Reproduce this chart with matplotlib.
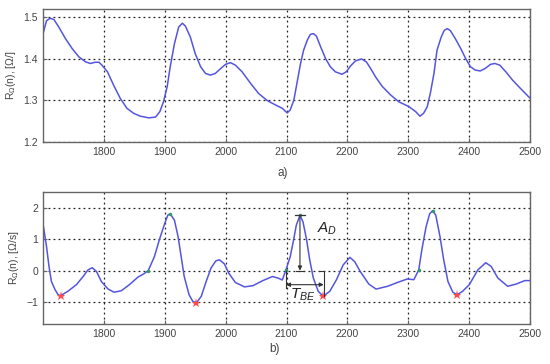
import matplotlib
matplotlib.use("Agg")
import matplotlib.pyplot as plt

# ── values ────────────────────────────────────────────────────────────────
# a) resistance R(n)
n_a = [1701, 1706, 1712, 1718, 1726, 1737, 1748, 1759, 1770, 1778, 1786, 1792,
       1797, 1806, 1816, 1827, 1838, 1849, 1860, 1874, 1885, 1892, 1898, 1904,
       1909, 1916, 1923, 1929, 1934, 1942, 1950, 1959, 1967, 1975, 1983, 1992,
       2000, 2008, 2016, 2027, 2041, 2054, 2068, 2082, 2093, 2101, 2106, 2112,
       2117, 2123, 2128, 2134, 2139, 2144, 2149, 2156, 2164, 2172, 2180, 2191,
       2198, 2205, 2213, 2223, 2231, 2238, 2246, 2257, 2271, 2284, 2301, 2312,
       2319, 2325, 2331, 2336, 2342, 2347, 2354, 2359, 2364, 2369, 2377, 2386,
       2394, 2402, 2410, 2418, 2426, 2435, 2442, 2450, 2460, 2471, 2484, 2500]
r_a = [1.465, 1.492, 1.498, 1.495, 1.477, 1.449, 1.425, 1.405, 1.393, 1.389,
       1.392, 1.392, 1.385, 1.369, 1.337, 1.305, 1.281, 1.269, 1.262, 1.258,
       1.260, 1.273, 1.297, 1.333, 1.381, 1.437, 1.477, 1.486, 1.479, 1.453,
       1.413, 1.381, 1.365, 1.361, 1.365, 1.377, 1.387, 1.391, 1.385, 1.369,
       1.341, 1.317, 1.300, 1.289, 1.281, 1.270, 1.277, 1.301, 1.341, 1.389,
       1.421, 1.445, 1.459, 1.461, 1.455, 1.429, 1.401, 1.381, 1.369, 1.363,
       1.369, 1.383, 1.395, 1.400, 1.393, 1.377, 1.357, 1.334, 1.313, 1.297,
       1.285, 1.273, 1.262, 1.269, 1.285, 1.317, 1.365, 1.421, 1.453, 1.469,
       1.473, 1.468, 1.449, 1.425, 1.401, 1.381, 1.373, 1.371, 1.377, 1.387,
       1.389, 1.385, 1.369, 1.349, 1.329, 1.305]

# b) derivative dR/dn
n_b = [1701, 1706, 1710, 1714, 1720, 1725, 1729, 1741, 1755, 1766, 1774, 1781,
       1788, 1796, 1807, 1817, 1829, 1842, 1856, 1866, 1873, 1883, 1891, 1900,
       1905, 1909, 1916, 1922, 1927, 1932, 1940, 1946, 1952, 1960, 1968, 1976,
       1984, 1990, 1998, 2005, 2016, 2031, 2045, 2061, 2077, 2086, 2093, 2099,
       2106, 2111, 2116, 2122, 2127, 2133, 2138, 2144, 2152, 2160, 2171, 2182,
       2193, 2204, 2212, 2221, 2235, 2247, 2266, 2282, 2298, 2309, 2317, 2322,
       2329, 2335, 2340, 2345, 2352, 2358, 2365, 2373, 2380, 2389, 2400, 2414,
       2427, 2436, 2447, 2463, 2477, 2491, 2500]
r_b = [1.39, 0.76, 0.13, -0.35, -0.61, -0.77, -0.80, -0.66, -0.45, -0.19,
       0.02, 0.09, -0.03, -0.35, -0.59, -0.69, -0.64, -0.45, -0.21, -0.10,
       0.00, 0.44, 0.97, 1.50, 1.76, 1.81, 1.60, 1.07, 0.44, -0.19,
       -0.77, -0.98, -1.03, -0.82, -0.35, 0.08, 0.31, 0.34, 0.21, -0.08,
       -0.38, -0.52, -0.48, -0.32, -0.19, -0.24, -0.30, 0.02, 0.44, 0.92,
       1.44, 1.76, 1.55, 0.97, 0.34, -0.24, -0.66, -0.82, -0.66, -0.29,
       0.18, 0.42, 0.28, -0.03, -0.43, -0.59, -0.50, -0.38, -0.27, -0.29,
       0.02, 0.65, 1.39, 1.81, 1.91, 1.76, 1.07, 0.34, -0.35, -0.69,
       -0.77, -0.66, -0.45, 0.02, 0.25, 0.13, -0.24, -0.50, -0.43, -0.32,
       -0.32]

# marked points
min_n = [1729, 1952, 2160, 2380]
min_v = [-0.80, -1.03, -0.82, -0.77]
mark_n = [1873, 1909, 2099, 2122, 2317, 2340]
mark_v = [0.00, 1.81, 0.02, 1.76, 0.02, 1.91]

# annotation anchors (A_D and T_BE on the third beat)
ad_n, ad_top, ad_bot = 2122, 1.76, 0.0
tbe_start, tbe_end, tbe_y = 2099, 2161, -0.45

x_ticks = [1800, 1900, 2000, 2100, 2200, 2300, 2400, 2500]

LINE = "#5555e0"
GRAY = "#444444"
INK = "#333333"
plt.rcParams["font.family"] = ["Liberation Sans", "DejaVu Sans"]
plt.rcParams["mathtext.fontset"] = "custom"
plt.rcParams["mathtext.rm"] = "Liberation Sans"
plt.rcParams["mathtext.it"] = "Liberation Sans:italic"

fig = plt.figure(figsize=(5.5, 3.64), dpi=100)
fig.patch.set_facecolor("white")
ax1 = fig.add_axes([0.078, 0.610, 0.886, 0.365])
ax2 = fig.add_axes([0.078, 0.110, 0.886, 0.3625])

for ax in (ax1, ax2):
    for sp in ax.spines.values():
        sp.set_edgecolor("#666666")
        sp.set_linewidth(1.0)
    ax.tick_params(direction="in", length=3, colors="#666666",
                   labelcolor=GRAY, labelsize=7.5)
    ax.grid(True, linestyle=(0, (1.5, 2.5)), color="#222222", linewidth=0.9)
    ax.set_xlim(1700, 2500)
    ax.set_xticks(x_ticks)

# ── a) ────────────────────────────────────────────────────────────────────
ax1.plot(n_a, r_a, color=LINE, linewidth=1.1)
ax1.set_ylim(1.2, 1.52)
ax1.set_yticks([1.2, 1.3, 1.4, 1.5])
ax1.set_ylabel("R$_\\Omega$(n), [Ω/]", fontsize=7.5, color=GRAY, labelpad=4)
fig.text(0.515, 0.525, "a)", fontsize=8.5, color=GRAY, ha="center", va="center")

# ── b) ────────────────────────────────────────────────────────────────────
ax2.plot(n_b, r_b, color=LINE, linewidth=1.1)
ax2.plot(min_n, min_v, "*", color="#ff4d4d", markersize=6.5, markeredgewidth=0)
ax2.plot(mark_n, mark_v, ".", color="#339966", markersize=3)
ax2.set_ylim(-1.7, 2.5)
ax2.set_yticks([-1, 0, 1, 2])
ax2.set_ylabel("R$_\\Omega$(n), [Ω/s]", fontsize=7.5, color=GRAY, labelpad=4)
fig.text(0.50, 0.04, "b)", fontsize=8.5, color=GRAY, ha="center", va="center")

# A_D arrow
ax2.annotate("", xy=(ad_n, ad_bot), xytext=(ad_n, ad_top),
             arrowprops=dict(arrowstyle="-|>", color=INK, lw=0.8,
                             mutation_scale=6, shrinkA=0, shrinkB=0))
ax2.plot([ad_n - 8, ad_n + 8], [ad_top, ad_top], color=INK, lw=0.9)
ax2.plot([ad_n - 6, ad_n + 6], [ad_bot, ad_bot], color=INK, lw=0.8)
ax2.text(2150, 1.2, "$A_D$", fontsize=11, color="#222222")

# T_BE arrow
ax2.plot([tbe_start, tbe_start], [0.0, -0.55], color=INK, lw=0.8)
ax2.plot([tbe_end, tbe_end], [0.0, -0.82], color=INK, lw=0.8)
ax2.plot([tbe_end - 8, tbe_end], [0.0, 0.0], color=INK, lw=0.8)
ax2.annotate("", xy=(tbe_start, tbe_y), xytext=(tbe_end, tbe_y),
             arrowprops=dict(arrowstyle="<|-|>", color=INK, lw=0.8,
                             mutation_scale=6, shrinkA=0, shrinkB=0))
ax2.text(2106, -0.88, "$T_{BE}$", fontsize=11, color="#222222")

fig.savefig("out.png", dpi=100, facecolor="white")
